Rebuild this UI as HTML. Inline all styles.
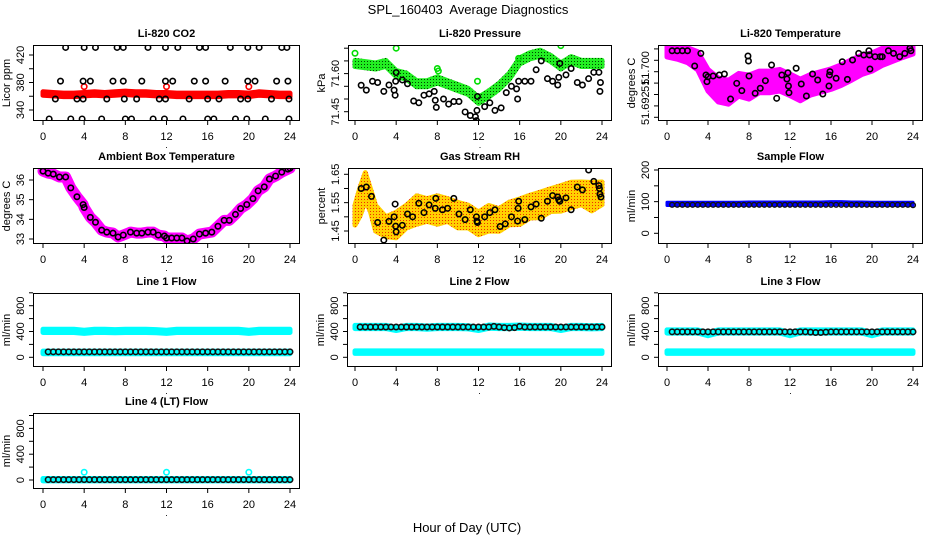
<!DOCTYPE html>
<html><head><meta charset="utf-8"><style>
html,body{margin:0;padding:0;background:#fff}
svg{display:block;font-family:"Liberation Sans",Arial,sans-serif}
</style></head><body>
<svg id="chart" width="936" height="540" viewBox="0 0 936 540" xmlns="http://www.w3.org/2000/svg">
<defs>
<pattern id="pgreen" width="3" height="3" patternUnits="userSpaceOnUse"><rect width="3" height="3" fill="#22ee22"/><rect x="1" y="1" width="1" height="1" fill="#004400"/></pattern>
<pattern id="porange" width="3" height="3" patternUnits="userSpaceOnUse"><rect width="3" height="3" fill="#ffd000"/><rect x="1" y="1" width="1" height="1" fill="#f03000"/></pattern>
</defs>
<text x="468" y="14" font-size="13" text-anchor="middle" xml:space="preserve">SPL_160403  Average Diagnostics</text>
<text x="467" y="532" font-size="13" text-anchor="middle">Hour of Day (UTC)</text>
</svg>
<script>
// ---- data ----
const xTicks=[0,4,8,12,16,20,24];
const hourly=[0,1,2,3,4,5,6,7,8,9,10,11,12,13,14,15,16,17,18,19,20,21,22,23,24];
const halfHours=[0.5,1,1.5,2,2.5,3,3.5,4,4.5,5,5.5,6,6.5,7,7.5,8,8.5,9,9.5,10,10.5,11,11.5,12,12.5,13,13.5,14,14.5,15,15.5,16,16.5,17,17.5,18,18.5,19,19.5,20,20.5,21,21.5,22,22.5,23,23.5,24];
// CO2
const co2Red=[364,363,362,362,363,364,363,364,365,364,364,363,363,362,362,362,362,362,363,363,362,364,363,362,362];
const co2SpikeHours=[4,12,20];
const co2SpikeVals=[374,374,374];
const co2BlackHours=[2.2,4,5.1,7.2,7.8,10.2,11.9,13.1,15.2,15.8,18.2,19.9,21,23.2,23.7,1.7,3.9,4.6,6.8,7.8,9.6,11.9,12.6,14.7,15.8,17.7,19.9,20.6,22.7,23.8,1.2,3.3,3.9,6.2,7.9,9.1,11.3,11.9,14.2,16,17.1,19.2,19.9,22.2,23.9,0.6,2.7,3.8,5.7,8,8.6,10.7,11.8,13.6,16,16.6,18.7,19.8,21.6,23.9];
const co2BlackVals=[431,431,431,431,431,431,431,431,431,431,431,431,431,431,431,382,382,382,382,382,382,382,382,382,382,382,382,382,382,382,356,356,356,356,356,356,356,356,356,356,356,356,356,356,356,327,327,327,327,327,327,327,327,327,327,327,327,327,327,327];
// Pressure
const presGreen=[71.64,71.635,71.63,71.64,71.60,71.59,71.56,71.56,71.575,71.56,71.545,71.53,71.495,71.52,71.55,71.59,71.65,71.67,71.68,71.66,71.63,71.655,71.64,71.64,71.64];
const presGreenOutHours=[0,4,8,8.1,11.9,20,15.9];
const presGreenOutVals=[71.68,71.70,71.62,71.61,71.57,71.71,71.66];
const presBlackHours=[0.6,1.1,1.7,2.2,2.8,3.3,3.8,3.9,4,3.95,4.6,5.1,5.7,6.2,6.7,7.2,7.7,7.8,7.9,8.6,9.1,9.6,10.1,10.7,11.2,11.7,11.8,11.85,11.9,12.6,13.1,13.6,14.2,14.7,15.2,15.7,15.8,15.9,16.5,17.1,17.6,18.1,18.7,19.2,19.7,19.8,19.9,20.5,21,21.6,22.1,22.7,23.2,23.7,23.8,23.85];
const presBlackVals=[71.554,71.535,71.57,71.565,71.53,71.555,71.535,71.515,71.604,71.57,71.575,71.56,71.492,71.485,71.515,71.52,71.53,71.495,71.467,71.5,71.48,71.49,71.49,71.449,71.435,71.43,71.415,71.455,71.51,71.47,71.485,71.455,71.465,71.525,71.55,71.54,71.5,71.57,71.57,71.57,71.615,71.65,71.58,71.57,71.555,71.585,71.64,71.595,71.62,71.565,71.555,71.58,71.605,71.605,71.53,71.565];
// Li-820 temperature
const tempMag=[51.7036,51.7033,51.7029,51.7019,51.6985,51.6968,51.6964,51.6977,51.6973,51.6982,51.6982,51.6985,51.6977,51.6968,51.6977,51.6982,51.6987,51.6994,51.7003,51.7012,51.7017,51.7026,51.7031,51.7036,51.7040];
const tempSpread=[0.0010,0.0011,0.0013,0.0016,0.0019,0.0021,0.0021,0.0020,0.0021,0.0019,0.0019,0.0019,0.0019,0.0019,0.0018,0.0018,0.0018,0.0018,0.0018,0.0017,0.0016,0.0015,0.0013,0.0011,0.0009];
const tempBlackHours=[0.5,1,1.5,2,2.7,3.3,3.8,3.9,4,4.5,5.1,5.6,6.2,6.8,7.3,7.9,7.95,8,8.6,9.1,9.6,10.2,10.7,11.2,11.7,11.8,11.85,11.9,12.6,13.1,13.6,14.2,14.7,15.2,15.8,15.85,15.9,16.5,17.1,17.6,18.1,18.7,19.2,19.7,19.75,19.8,20.3,20.8,21,21.6,22.1,22.7,23.2,23.7,23.8];
const tempBlackVals=[51.70368,51.70368,51.70368,51.70368,51.7010,51.70322,51.69942,51.69825,51.69912,51.69925,51.69942,51.6996,51.6952,51.69796,51.69667,51.70275,51.70188,51.69925,51.69621,51.69709,51.69842,51.70118,51.69533,51.69942,51.69872,51.69982,51.69749,51.69632,51.7006,51.69784,51.69574,51.6996,51.69854,51.69609,51.69749,51.69942,51.7000,51.69884,51.70175,51.69866,51.70205,51.70322,51.70293,51.70368,51.70293,51.70047,51.70263,51.70263,51.70263,51.70368,51.70322,51.70263,51.70322,51.7041,51.70368];
// Ambient box temperature
const ambHours=[0,0.5,1,1.6,2.2,2.7,3.3,3.9,4,4.6,5.1,5.7,6.2,6.8,7.3,7.8,8.5,9.1,9.6,10.2,10.7,11.2,11.8,12,12.5,13,13.5,14,14.6,15.2,15.8,16.4,17,17.6,18.1,18.7,19.2,19.8,20.4,20.9,21.5,22,22.6,23.2,23.8,24];
const ambVals=[36.45,36.35,36.3,36.15,36.15,35.6,35.15,34.75,34.6,34.1,33.85,33.45,33.35,33.3,33.1,33.2,33.35,33.3,33.3,33.35,33.35,33.2,33.15,33.05,33.05,33.05,33.05,32.9,33.0,33.25,33.3,33.35,33.65,33.95,33.95,34.25,34.55,34.75,35.05,35.45,35.65,36.05,36.2,36.4,36.55,36.6];
// Gas stream RH
const rhHours=[0,0.5,1,1.5,2,3,4,5,6,7,8,9,10,11,12,13,14,15,16,17,18,19,20,21,22,23,24];
const rhCenter=[1.506,1.554,1.606,1.559,1.495,1.465,1.471,1.501,1.524,1.524,1.524,1.524,1.506,1.501,1.477,1.495,1.489,1.512,1.518,1.536,1.542,1.559,1.565,1.577,1.583,1.571,1.583];
const rhSpread=[0.035,0.05,0.05,0.04,0.045,0.035,0.045,0.04,0.05,0.04,0.05,0.04,0.045,0.04,0.04,0.045,0.04,0.04,0.045,0.04,0.045,0.04,0.045,0.045,0.04,0.05,0.04];
const rhBlackHours=[0.6,1.1,1.6,2.2,2.8,3.3,3.8,3.9,3.95,4,4.6,5.1,5.6,6.2,6.7,7.2,7.8,7.85,8.5,9,9.6,10.1,10.7,11.2,11.8,11.85,11.9,12.6,13.1,13.6,14.1,14.6,15.2,15.8,15.85,15.9,16.5,17.1,17.6,18.1,18.7,19.2,19.7,19.8,19.9,20.5,21,21.6,22.1,22.7,23.2,23.7,23.75,23.8,23.9];
const rhBlackVals=[1.60,1.605,1.572,1.48,1.418,1.484,1.50,1.545,1.467,1.447,1.47,1.51,1.50,1.548,1.515,1.542,1.53,1.565,1.525,1.53,1.565,1.51,1.49,1.525,1.50,1.485,1.48,1.50,1.515,1.525,1.466,1.475,1.50,1.485,1.53,1.555,1.49,1.535,1.545,1.495,1.555,1.575,1.57,1.56,1.555,1.567,1.525,1.605,1.595,1.665,1.625,1.61,1.60,1.58,1.57];
// Sample flow
const sampleBlue=[93,93,93,93,93,93,93,93,94,94,94,94,94,94,94,94,95,95,94,94,93,93,93,93,93];
const sampleBlack=[90,90,90,90,90,90,90,90,90,90,90,90,90,90,90,90,90,90,90,90,90,90,90,90,90,90,90,90,90,90,90,90,90,90,90,90,90,90,90,90,90,90,90,90,90,90,90,89];
// Line flows
const l1CyanHigh=[410,410,410,410,395,410,410,405,410,410,410,405,395,410,410,410,410,410,410,410,395,410,410,410,410];
const l1CyanLow=[75,75,75,75,75,75,75,75,75,75,75,75,75,75,75,75,75,75,75,75,75,75,75,75,75];
const l1Black=[85,85,85,85,85,85,85,85,85,85,85,85,85,85,85,85,85,85,85,85,85,85,85,85,85,85,85,85,85,85,85,85,85,85,85,85,85,85,85,85,85,85,85,85,85,85,85,85];
const l2CyanHigh=[470,470,470,470,440,470,470,460,470,470,470,465,440,475,470,470,475,470,470,470,440,470,470,465,470];
const l2CyanLow=[80,80,80,80,80,80,80,80,80,80,80,80,80,80,80,80,80,80,80,80,80,80,80,80,80];
const l2Black=[470,470,470,470,470,470,470,470,470,470,470,470,470,470,470,470,470,470,470,470,470,470,470,470,470,470,480,470,460,455,460,480,470,470,470,470,470,470,470,470,470,470,470,470,470,470,470,470];
const l3CyanHigh=[400,400,400,400,360,400,400,400,400,400,400,400,360,400,400,400,400,400,400,400,360,400,400,400,400];
const l3CyanLow=[80,80,80,80,80,80,80,80,80,80,80,80,80,80,80,80,80,80,80,80,80,80,80,80,80];
const l3Black=[395,395,395,395,395,395,395,395,395,395,395,395,395,395,395,395,395,395,395,395,395,395,395,395,395,395,395,390,385,385,390,395,395,395,395,395,395,395,395,395,395,395,395,395,395,395,395,395];
const l4Cyan=[5,5,5,5,5,5,5,5,5,5,5,5,5,5,5,5,5,5,5,5,5,5,5,5,5];
const l4SpikeHours=[4,12,20];
const l4SpikeVals=[120,120,120];
const l4Black=[5,5,5,5,5,5,5,5,5,5,5,5,5,5,5,5,5,5,5,5,5,5,5,5,5,5,5,5,5,5,5,5,5,5,5,5,5,5,5,5,5,5,5,5,5,5,5,5];

// ---- drawing ----
const NS='http://www.w3.org/2000/svg';
const svg=document.getElementById('chart');
function node(tag,parent){const e=document.createElementNS(NS,tag);parent.appendChild(e);return e;}
const C1={L:33,R:300,x0:43,x24:290}, C2={L:348,R:612,x0:355,x24:602}, C3={L:658,R:923,x0:667,x24:913};
const R1={T:45,B:121}, R2={T:168,B:244}, R3={T:293,B:367}, R4={T:413,B:489};
let clipId=0;
function makePanel(name,col,row,title,ylab,va,pa,vb,pb,ticks,labelVals,labelTexts){
  const p={L:col.L,R:col.R,T:row.T,B:row.B};
  p.xs=h=>col.x0+(col.x24-col.x0)*h/24;
  p.ys=v=>pa+(v-va)*(pb-pa)/(vb-va);
  const g=node('g',svg);
  
  
  const t=node('text',g);
  
  
  t.setAttribute('x',(p.L+p.R)/2);t.setAttribute('y',p.T-8);t.setAttribute('font-size','11');t.setAttribute('font-weight','bold');t.setAttribute('text-anchor','middle');t.textContent=title;
  const cp=node('clipPath',g);cp.setAttribute('id','clip'+(++clipId));
  const cr=node('rect',cp);cr.setAttribute('x',p.L);cr.setAttribute('y',p.T);cr.setAttribute('width',p.R-p.L);cr.setAttribute('height',p.B-p.T);
  p.plot=node('g',g);
  
  
  p.plot.setAttribute('clip-path','url(#clip'+clipId+')');
  const box=node('rect',g);
  
  
  box.setAttribute('x',p.L+0.5);box.setAttribute('y',p.T+0.5);box.setAttribute('width',p.R-p.L-1);box.setAttribute('height',p.B-p.T-1);box.setAttribute('fill','none');box.setAttribute('stroke','#000');
  const xa=node('g',g);
  
  
  xTicks.forEach(h=>{
    const x=p.xs(h);
    const l=node('line',xa);l.setAttribute('x1',x);l.setAttribute('x2',x);l.setAttribute('y1',p.B);l.setAttribute('y2',p.B+4);l.setAttribute('stroke','#000');
    const tx=node('text',xa);
    
    
    tx.setAttribute('x',x);tx.setAttribute('y',p.B+19);tx.setAttribute('font-size','11');tx.setAttribute('text-anchor','middle');tx.textContent=h;
  });
  const dot=node('text',xa);
  
  
  dot.setAttribute('x',(p.L+p.R)/2);dot.setAttribute('y',p.B+27);dot.setAttribute('font-size','9');dot.setAttribute('text-anchor','middle');dot.textContent='.';
  const ya=node('g',g);
  
  
  ticks.forEach(v=>{
    const y=p.ys(v);
    const l=node('line',ya);l.setAttribute('x1',p.L);l.setAttribute('x2',p.L-4);l.setAttribute('y1',y);l.setAttribute('y2',y);l.setAttribute('stroke','#000');
  });
  labelVals.forEach((v,i)=>{
    const y=p.ys(v);const tx=node('text',ya);
    
    
    tx.setAttribute('transform','translate('+(p.L-9)+','+y+') rotate(-90)');tx.setAttribute('font-size','11');tx.setAttribute('text-anchor','middle');tx.textContent=labelTexts[i];
  });
  const yt=node('text',g);
  
  
  yt.setAttribute('transform','translate('+(p.L-23)+','+((p.T+p.B)/2)+') rotate(-90)');yt.setAttribute('font-size','11');yt.setAttribute('text-anchor','middle');yt.textContent=ylab;
  return p;
}
function circles(p,hours,vals,color,name,r,sw){
  const g=node('g',p.plot);
  
  
  hours.forEach((h,i)=>{
    const c=node('circle',g);
    
    
    c.setAttribute('cx',p.xs(h));c.setAttribute('cy',p.ys(vals[i]));c.setAttribute('r',r||2.7);c.setAttribute('fill','none');c.setAttribute('stroke',color);c.setAttribute('stroke-width',sw||1.6);
  });
}
function band(p,hours,center,spread,fill,name,sw){
  const pts=[];
  hours.forEach((h,i)=>{const s=Array.isArray(spread)?spread[i]:spread;pts.push(p.xs(h)+','+p.ys(center[i]+s));});
  for(let i=hours.length-1;i>=0;i--){const s=Array.isArray(spread)?spread[i]:spread;pts.push(p.xs(hours[i])+','+p.ys(center[i]-s));}
  const pg=node('polygon',p.plot);
  
  
  pg.setAttribute('points',pts.join(' '));pg.setAttribute('fill',fill);pg.setAttribute('stroke',fill);pg.setAttribute('stroke-width',sw===undefined?5:sw);pg.setAttribute('stroke-linejoin','round');
}
function thickLine(p,hours,vals,color,w,name){
  const pl=node('polyline',p.plot);
  
  
  pl.setAttribute('points',hours.map((h,i)=>p.xs(h)+','+p.ys(vals[i])).join(' '));pl.setAttribute('fill','none');pl.setAttribute('stroke',color);pl.setAttribute('stroke-width',w);pl.setAttribute('stroke-linecap','round');pl.setAttribute('stroke-linejoin','round');
}

// CO2
let p=makePanel('co2',C1,R1,'Li-820 CO2','Licor ppm',340,110,420,55,[340,360,380,400,420],[340,380,420],['340','380','420']);
band(p,hourly,co2Red,2.5,'#ff0000','co2-red-series');
circles(p,co2SpikeHours,co2SpikeVals,'#ff0000','co2-red-spikes');
circles(p,co2BlackHours,co2BlackVals,'#000','co2-black-series');
// Pressure
p=makePanel('pressure',C2,R1,'Li-820 Pressure','kPa',71.45,111.7,71.60,73.6,[71.45,71.50,71.55,71.60,71.65,71.70],[71.45,71.60],['71.45','71.60']);
band(p,hourly,presGreen,0.012,'url(#pgreen)','pressure-green-series');
circles(p,presGreenOutHours,presGreenOutVals,'#00dd00','pressure-green-outliers');
circles(p,presBlackHours,presBlackVals,'#000','pressure-black-series');
// Li-820 temp
p=makePanel('li820-temp',C3,R1,'Li-820 Temperature','degrees C',51.700,71.7,51.692,117.3,[51.692,51.694,51.696,51.698,51.700,51.702,51.704],[51.6936,51.6978,51.70065],['51.692','51.','51.700']);
band(p,hourly,tempMag,tempSpread,'#ff00ff','temp-magenta-series');
circles(p,tempBlackHours,tempBlackVals,'#000','temp-black-series');
// Ambient
p=makePanel('ambient-temp',C1,R2,'Ambient Box Temperature','degrees C',33,239,36,180,[33,34,35,36],[33,34,35,36],['33','34','35','36']);
thickLine(p,ambHours,ambVals,'#ff00ff',11,'ambient-magenta-series');
circles(p,ambHours,ambVals,'#000','ambient-black-series');
// RH
p=makePanel('gas-rh',C2,R2,'Gas Stream RH','percent',1.45,231,1.65,174.3,[1.45,1.50,1.55,1.60,1.65],[1.45,1.55,1.65],['1.45','1.55','1.65']);
band(p,rhHours,rhCenter,rhSpread,'url(#porange)','rh-orange-series');
circles(p,rhBlackHours,rhBlackVals,'#000','rh-black-series');
// Sample flow
p=makePanel('sample-flow',C3,R2,'Sample Flow','ml/min',0,233.3,200,170,[0,50,100,150,200],[0,100,200],['0','100','200']);
band(p,hourly,sampleBlue,5,'#0000ff','sample-blue-series',3);
circles(p,halfHours,sampleBlack,'#111','sample-black-series',2.4,1.4);
// Line 1
const fl=[0,200,400,600,800,1000], flL=[0,400,800], flT=['0','400','800'];
p=makePanel('line1-flow',C1,R3,'Line 1 Flow','ml/min',0,357.3,800,305.7,fl,flL,flT);
band(p,hourly,l1CyanHigh,25,'#00ffff','line1-cyan-high');
band(p,hourly,l1CyanLow,20,'#00ffff','line1-cyan-low');
circles(p,halfHours,l1Black,'#111','line1-black-series');
// Line 2
p=makePanel('line2-flow',{L:347,R:612,x0:355,x24:602},R3,'Line 2 Flow','ml/min',0,357.3,800,305.7,fl,flL,flT);
band(p,hourly,l2CyanHigh,25,'#00ffff','line2-cyan-high');
band(p,hourly,l2CyanLow,20,'#00ffff','line2-cyan-low');
circles(p,halfHours,l2Black,'#111','line2-black-series');
// Line 3
p=makePanel('line3-flow',C3,R3,'Line 3 Flow','ml/min',0,357.3,800,305.7,fl,flL,flT);
band(p,hourly,l3CyanHigh,25,'#00ffff','line3-cyan-high');
band(p,hourly,l3CyanLow,20,'#00ffff','line3-cyan-low');
circles(p,halfHours,l3Black,'#111','line3-black-series');
// Line 4
p=makePanel('line4-flow',C1,R4,'Line 4 (LT) Flow','ml/min',0,480,800,428.4,fl,flL,flT);
band(p,hourly,l4Cyan,18,'#00ffff','line4-cyan-series');
circles(p,l4SpikeHours,l4SpikeVals,'#00ffff','line4-cyan-spikes');
circles(p,halfHours,l4Black,'#111','line4-black-series');
</script>
</body></html>
